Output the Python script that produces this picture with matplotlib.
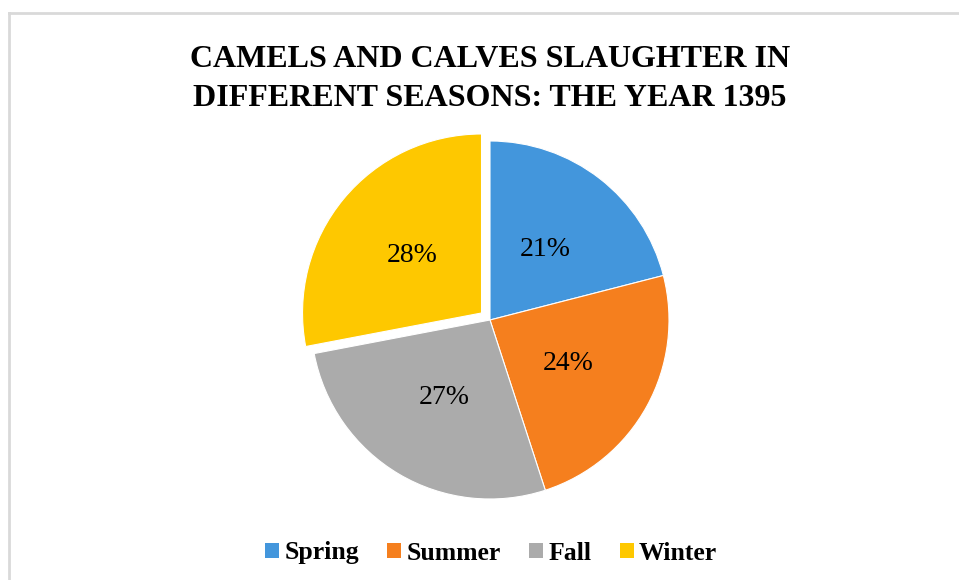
import matplotlib.pyplot as plt
from matplotlib.lines import Line2D

# Dati del grafico
stagioni = ['Spring', 'Summer', 'Fall', 'Winter']
percentuali = [21, 24, 27, 28]
colori = ['#4396dc', '#f57f1e', '#ababab', '#fec800']

W, H = 959, 580
fig = plt.figure(figsize=(W / 100, H / 100), dpi=100)
ax = fig.add_axes([0, 0, 1, 1])
ax.set_aspect('equal')
ax.axis('off')

# Bordo grigio chiaro (solo sopra e a sinistra, come nell'originale)
ax.add_line(Line2D([9, 9], [0, H - 13], color='#d9d9d9', lw=2))
ax.add_line(Line2D([9, W], [H - 13, H - 13], color='#d9d9d9', lw=2))

# explode in matplotlib e' in unita' assolute (qui pixel)
esplosione = [0, 0, 0, 11]
wedges, testi, pct = ax.pie(
    percentuali, colors=colori, explode=esplosione, startangle=90,
    counterclock=False, center=(490, H - 320), radius=179,
    autopct='%1.0f%%', pctdistance=0.5,
    wedgeprops=dict(edgecolor='white', linewidth=0.8),
    textprops=dict(family='Liberation Serif', fontsize=20, color='black'))
ax.set_xlim(0, W)
ax.set_ylim(0, H)

ax.text(490, H - 79, 'CAMELS AND CALVES SLAUGHTER IN\nDIFFERENT SEASONS: THE YEAR 1395',
        ha='center', va='center', family='Liberation Serif', fontweight='bold',
        fontsize=23, linespacing=1.45)

leg = ax.legend(wedges, stagioni, loc='center', bbox_to_anchor=(491 / W, 1 - 553 / H),
                ncol=4, frameon=False, handlelength=0.55, handleheight=0.55,
                handletextpad=0.2, columnspacing=1.1,
                prop=dict(family='Liberation Serif', weight='bold', size=18.5))
for h in leg.legend_handles:
    h.set_edgecolor('none')

fig.savefig('out.png', dpi=100)
